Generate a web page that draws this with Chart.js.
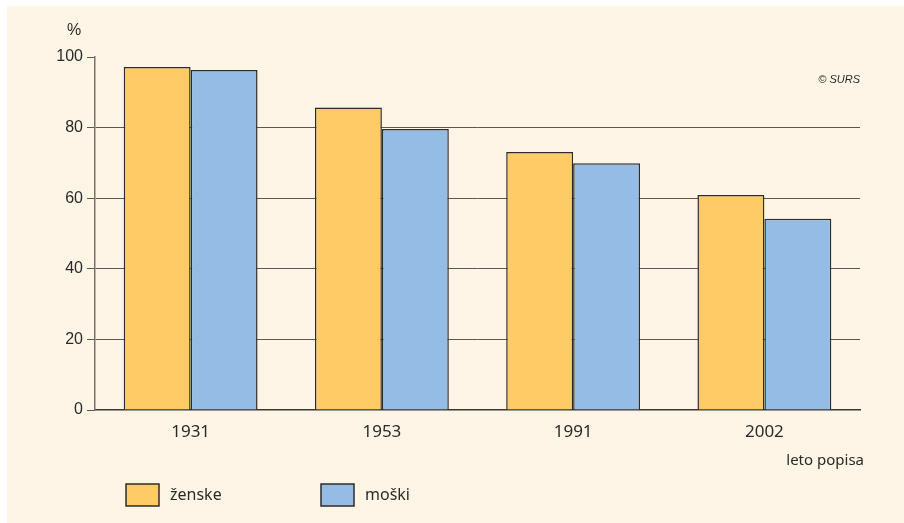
<!DOCTYPE html>
<html>
<head>
<meta charset="utf-8">
<script src="https://cdn.jsdelivr.net/npm/chart.js@4/dist/chart.umd.min.js"></script>
<style>
  html, body { margin: 0; padding: 0; background: #fff; }
  #wrap { width: 904px; height: 523px; position: relative; }
</style>
</head>
<body>
<div id="wrap"><canvas id="chart"></canvas></div>
<script>
const years = ['1931', '1953', '1991', '2002'];
const zenske = [97.2, 85.7, 73.1, 60.9];
const moski = [96.3, 79.6, 69.9, 54.2];
const seriesLabels = ['ženske', 'moški'];

const yellow = '#FECB66';
const blue = '#94BCE4';
const edge = '#2e2c2a';
const cream = '#FEF5E6';

// background panel, captions and the legend below the axis
const decor = {
  id: 'decor',
  beforeDraw(chart) {
    const c = chart.ctx;
    c.save();
    c.fillStyle = '#fff';
    c.fillRect(0, 0, chart.width, chart.height);
    c.fillStyle = cream;
    c.fillRect(7, 6, chart.width - 7, chart.height - 6);
    c.restore();
  },
  afterDraw(chart) {
    const c = chart.ctx;
    c.save();
    c.fillStyle = '#2a2a2a';
    c.textBaseline = 'middle';
    c.font = '16px "Liberation Sans", Arial, sans-serif';
    c.textAlign = 'center';
    c.fillText('%', 74, 31);

    c.font = 'italic 11px "Liberation Sans", Arial, sans-serif';
    c.textAlign = 'right';
    c.fillText('© SURS', 860, 80);

    c.font = '15px "Noto Sans", sans-serif';
    c.fillText('leto popisa', 864, 461);

    const items = [
      { x: 126, color: yellow, text: seriesLabels[0] },
      { x: 321, color: blue, text: seriesLabels[1] }
    ];
    c.textAlign = 'left';
    c.font = '16px "Noto Sans", sans-serif';
    items.forEach(it => {
      c.fillStyle = it.color;
      c.fillRect(it.x, 484, 33, 22);
      c.strokeStyle = edge;
      c.lineWidth = 1.5;
      c.strokeRect(it.x, 484, 33, 22);
      c.fillStyle = '#2a2a2a';
      c.fillText(it.text, it.x + 44, 495);
    });
    c.restore();
  }
};

new Chart(document.getElementById('chart').getContext('2d'), {
  type: 'bar',
  data: {
    labels: years,
    datasets: [
      {
        label: seriesLabels[0],
        data: zenske,
        backgroundColor: yellow,
        borderColor: edge,
        borderWidth: 1.5
      },
      {
        label: seriesLabels[1],
        data: moski,
        backgroundColor: blue,
        borderColor: edge,
        borderWidth: 1.5
      }
    ]
  },
  options: {
    responsive: true,
    maintainAspectRatio: false,
    animation: false,
    devicePixelRatio: 1,
    layout: { padding: { top: 57, right: 44, left: 0, bottom: 0 } },
    datasets: {
      bar: { categoryPercentage: 0.7, barPercentage: 1 }
    },
    scales: {
      x: {
        grid: { display: false, drawTicks: false },
        border: { display: true, color: '#3a3836', width: 1.5 },
        ticks: {
          color: '#2a2a2a',
          padding: 12,
          font: { family: '"Noto Sans", sans-serif', size: 17 }
        },
        afterFit: s => { s.height = 113; }
      },
      y: {
        min: 0,
        max: 100,
        ticks: {
          stepSize: 20,
          padding: 4,
          color: '#2a2a2a',
          font: { family: '"Liberation Sans", Arial, sans-serif', size: 16 }
        },
        grid: {
          color: ctx => (ctx.tick && (ctx.tick.value === 100 || ctx.tick.value === 0)) ? 'rgba(0,0,0,0)' : '#5d5753',
          tickColor: '#5d5753',
          tickLength: 8,
          lineWidth: 1
        },
        border: { display: true, color: '#7a726c', width: 1.5 },
        afterFit: s => { s.width = 95; }
      }
    },
    plugins: {
      legend: { display: false },
      tooltip: { enabled: false },
      title: { display: false }
    }
  },
  plugins: [decor]
});
</script>
</body>
</html>
